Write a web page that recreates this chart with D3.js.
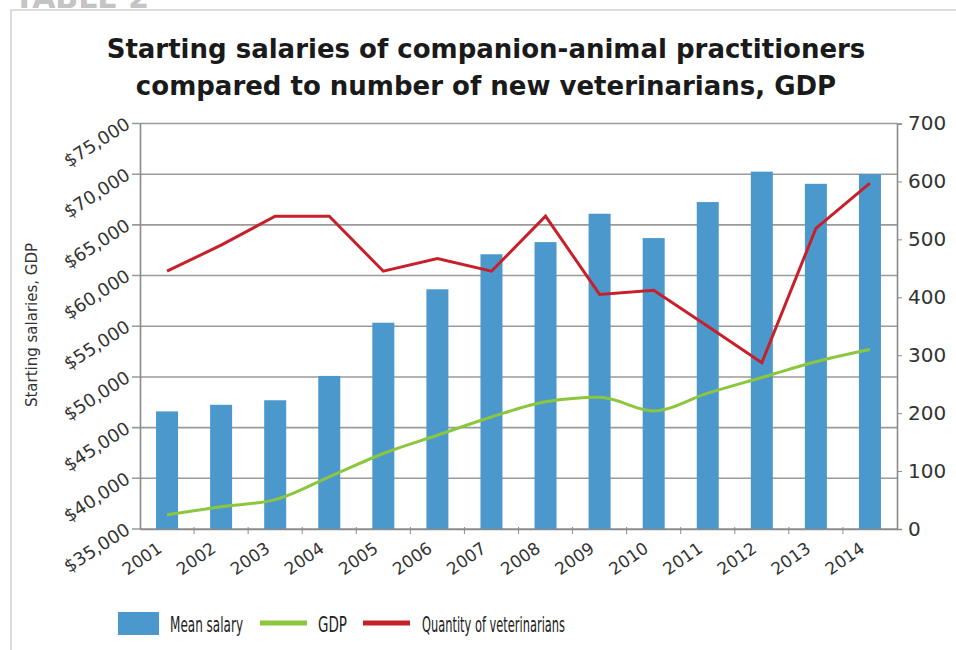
<!DOCTYPE html>
<html>
<head>
<meta charset="utf-8">
<script src="https://cdn.jsdelivr.net/npm/d3@7"></script>
<style>
  body { margin: 0; background: #fff; }
  svg text { font-family: "DejaVu Sans", Verdana, sans-serif; }
</style>
</head>
<body>
<div id="chart"></div>
<script>
var width = 956;
var height = 650;

// data
var years = ["2001", "2002", "2003", "2004", "2005", "2006", "2007",
             "2008", "2009", "2010", "2011", "2012", "2013", "2014"];
var meanSalary = [46600, 47250, 47700, 50100, 55350, 58650, 62100,
                  63300, 66100, 63700, 67250, 70250, 69050, 70000];
var gdp = [36400, 37200, 37900, 40150, 42450, 44250, 46050,
           47550, 48000, 46650, 48400, 49950, 51500, 52700];
var vets = [445, 490, 540, 540, 445, 467, 445, 540, 405, 412, 350, 287, 519, 597];

var salaryTicks = [35000, 40000, 45000, 50000, 55000, 60000, 65000, 70000, 75000];
var vetTicks = [0, 100, 200, 300, 400, 500, 600, 700];

var legendItems = ["Mean salary", "GDP", "Quantity of veterinarians"];

var rangeX = [140, 897];
var rangeY = [529, 123.5];

var svg = d3.select("#chart")
  .append("svg")
  .attr("width", width)
  .attr("height", height);

// frame + cut off header
svg.append("path")
  .attr("d", "M11,650 V10 H956")
  .attr("fill", "none")
  .attr("stroke", "#dcdcdc")
  .attr("stroke-width", 2);

svg.append("text")
  .attr("x", 14)
  .attr("y", 8)
  .attr("font-size", "30px")
  .attr("font-weight", "bold")
  .attr("fill", "#c4c4c4")
  .text("TABLE 2");

// title
var title = svg.append("text")
  .attr("text-anchor", "middle")
  .attr("font-size", "26px")
  .attr("font-weight", "bold")
  .attr("fill", "#1a1a1a");
title.append("tspan").attr("x", 486).attr("y", 58)
  .text("Starting salaries of companion-animal practitioners");
title.append("tspan").attr("x", 486).attr("y", 95)
  .text("compared to number of new veterinarians, GDP");

// scales
var xBand = d3.scaleBand().domain(years).range(rangeX);
var yLeft = d3.scaleLinear().domain([35000, 75000]).range(rangeY);
var yRight = d3.scaleLinear().domain([0, 700]).range(rangeY);

// gridlines
svg.append("g")
  .selectAll("line")
  .data(salaryTicks)
  .enter()
  .append("line")
  .attr("x1", rangeX[0] - 8)
  .attr("x2", rangeX[1])
  .attr("y1", function (d) { return yLeft(d); })
  .attr("y2", function (d) { return yLeft(d); })
  .attr("stroke", "#9a9a9a")
  .attr("stroke-width", 1.6);

// bars
svg.append("g")
  .selectAll("rect")
  .data(meanSalary)
  .enter()
  .append("rect")
  .attr("x", function (d, i) { return xBand(years[i]) + xBand.bandwidth() / 2 - 11; })
  .attr("width", 22)
  .attr("y", function (d) { return yLeft(d); })
  .attr("height", function (d) { return yLeft(35000) - yLeft(d); })
  .attr("fill", "#4b99cc");

// axes
var leftAxis = d3.axisLeft(yLeft).tickValues(salaryTicks).tickSize(0).tickPadding(10)
  .tickFormat(function (d) { return "$" + d3.format(",")(d); });
var gl = svg.append("g")
  .attr("transform", "translate(" + rangeX[0] + ",0)")
  .call(leftAxis);
gl.select(".domain").attr("stroke", "#8a8a8a").attr("stroke-width", 1.6);
gl.selectAll("text")
  .attr("font-size", "18px")
  .attr("fill", "#333")
  .attr("text-anchor", "end")
  .attr("transform", "translate(-12,-2) rotate(-33)")
  .attr("x", 0)
  .attr("dy", "0.35em");

var rightAxis = d3.axisRight(yRight).tickValues(vetTicks).tickSize(5).tickPadding(6);
var gr = svg.append("g")
  .attr("transform", "translate(" + rangeX[1] + ",0)")
  .call(rightAxis);
gr.select(".domain").attr("stroke", "#8a8a8a").attr("stroke-width", 1.6);
gr.selectAll(".tick line").attr("stroke", "#8a8a8a");
gr.selectAll("text").attr("font-size", "20px").attr("fill", "#333")
  .attr("font-family", "'Liberation Sans', Arial, sans-serif");

// x axis: ticks on band boundaries
var bottomAxis = d3.axisBottom(xBand).tickSize(0).tickPadding(0);
var gb = svg.append("g")
  .attr("transform", "translate(0," + rangeY[0] + ")")
  .call(bottomAxis);
gb.select(".domain").attr("stroke", "#8a8a8a").attr("stroke-width", 1.6);
gb.selectAll("text")
  .attr("font-size", "17px")
  .attr("fill", "#333")
  .attr("text-anchor", "end")
  .attr("y", 0)
  .attr("dy", 0)
  .attr("transform", "translate(-4,22) rotate(-35)");
gb.selectAll(".boundary")
  .data(years.slice(1))
  .enter()
  .append("line")
  .attr("class", "boundary")
  .attr("x1", function (d) { return xBand(d); })
  .attr("x2", function (d) { return xBand(d); })
  .attr("y1", -2)
  .attr("y2", 5)
  .attr("stroke", "#8a8a8a");

// lines
var gdpLine = d3.line()
  .x(function (d, i) { return xBand(years[i]) + xBand.bandwidth() / 2; })
  .y(function (d) { return yLeft(d); })
  .curve(d3.curveMonotoneX);
svg.append("path")
  .datum(gdp)
  .attr("d", gdpLine)
  .attr("fill", "none")
  .attr("stroke", "#8cc63f")
  .attr("stroke-width", 3);

var vetLine = d3.line()
  .x(function (d, i) { return xBand(years[i]) + xBand.bandwidth() / 2; })
  .y(function (d) { return yRight(d); });
svg.append("path")
  .datum(vets)
  .attr("d", vetLine)
  .attr("fill", "none")
  .attr("stroke", "#c8202a")
  .attr("stroke-width", 3);

// y label
svg.append("text")
  .attr("transform", "translate(37,325) rotate(-90)")
  .attr("text-anchor", "middle")
  .attr("font-size", "15px")
  .attr("fill", "#333")
  .text("Starting salaries, GDP");

// legend (condensed face, so squeeze the text to its width)
var legend = svg.append("g")
  .attr("font-family", "'Liberation Sans', Arial, sans-serif");
legend.append("rect").attr("x", 118).attr("y", 612).attr("width", 41).attr("height", 23).attr("fill", "#4b99cc");
legend.append("line").attr("x1", 260).attr("x2", 307).attr("y1", 623).attr("y2", 623)
  .attr("stroke", "#8cc63f").attr("stroke-width", 5);
legend.append("line").attr("x1", 363).attr("x2", 410).attr("y1", 623).attr("y2", 623)
  .attr("stroke", "#c8202a").attr("stroke-width", 5);

var legendX = [170, 318, 422];
var legendW = [73, 29, 143];
legend.selectAll("text.leg")
  .data(legendItems)
  .enter()
  .append("text")
  .attr("class", "leg")
  .attr("x", function (d, i) { return legendX[i]; })
  .attr("y", 632)
  .attr("font-size", "22px")
  .attr("fill", "#222")
  .attr("textLength", function (d, i) { return legendW[i]; })
  .attr("lengthAdjust", "spacingAndGlyphs")
  .text(function (d) { return d; });
</script>
</body>
</html>
